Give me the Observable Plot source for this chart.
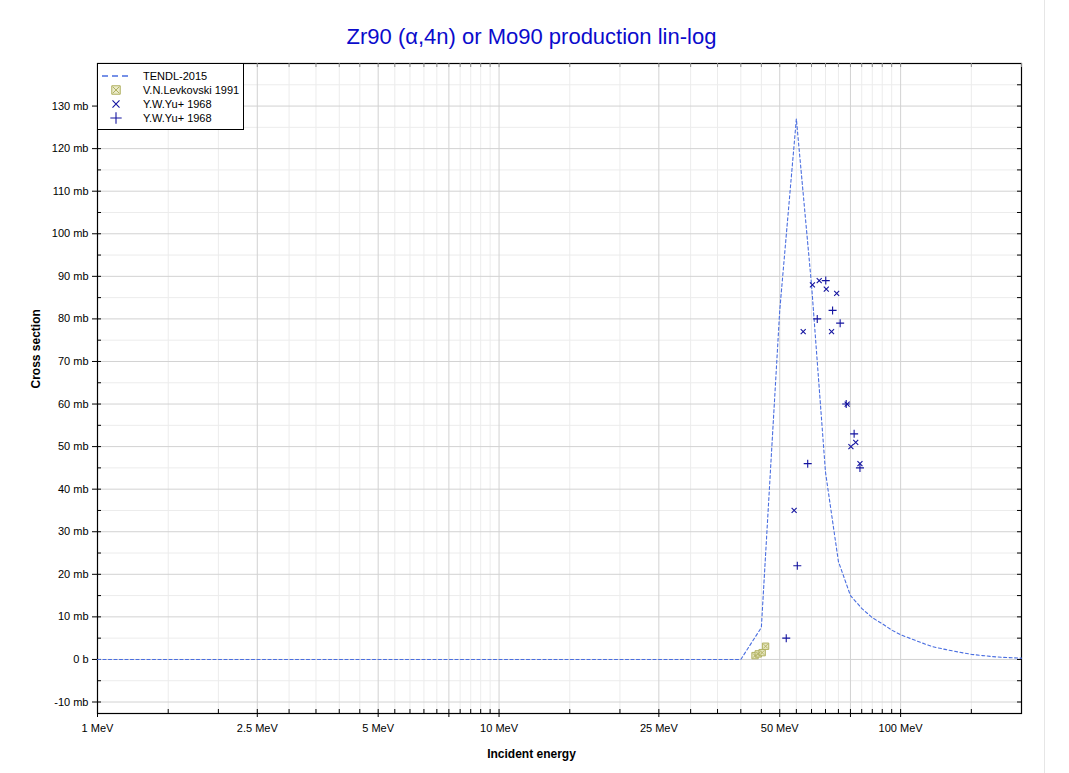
<!DOCTYPE html>
<html>
<head>
<meta charset="utf-8">
<script src="https://cdn.jsdelivr.net/npm/d3@7"></script>
<script src="https://cdn.jsdelivr.net/npm/@observablehq/plot@0.6"></script>
<style>
  html, body { margin: 0; padding: 0; background: white; }
  #chart { width: 1069px; height: 773px; }
</style>
</head>
<body>
<div id="chart"></div>
<script>
// ---- Data ----
const titleText = "Zr90 (α,4n) or Mo90 production lin-log";
const xTitle = "Incident energy";
const yTitle = "Cross section";

// TENDL-2015 evaluated curve (MeV, mb)
const tendlE  = [1, 40, 45, 50, 55, 60, 65, 70, 75, 80, 85, 90, 95, 100, 110, 120, 130, 140, 150, 160, 170, 180, 190, 200];
const tendlXS = [0, 0, 7.5, 82, 127, 88, 44, 23, 15, 12.0, 9.8, 8.4, 6.9, 5.8, 4.3, 3.0, 2.3, 1.7, 1.2, 0.9, 0.65, 0.5, 0.4, 0.3];

// V.N.Levkovski 1991
const levE  = [43.4, 44.2, 45.2, 46.1];
const levXS = [0.9, 1.3, 1.6, 3.1];

// Y.W.Yu+ 1968 (x markers)
const yuXE  = [54.3, 57.2, 60.3, 62.7, 65.3, 67.3, 69.3, 73.6, 75.2, 77.3, 79.2];
const yuXXS = [35, 77, 88, 89, 87, 77, 86, 60, 50, 51, 46];

// Y.W.Yu+ 1968 (+ markers)
const yuPE  = [51.9, 55.3, 58.7, 62.0, 65.1, 67.7, 70.7, 73.2, 76.6, 79.2];
const yuPXS = [5, 22, 46, 80, 89, 82, 79, 60, 53, 45];

// Axis ticks & labels
const xLabelVals = [1, 2.5, 5, 10, 25, 50, 100];
const xLabelText = ["1 MeV", "2.5 MeV", "5 MeV", "10 MeV", "25 MeV", "50 MeV", "100 MeV"];
const xMajorTicks = [1, 2.5, 5, 7.5, 10, 25, 50, 75, 100];
const xMantissas = [1, 1.5, 2, 2.5, 3, 3.5, 4, 4.5, 5, 5.5, 6, 6.5, 7, 7.5, 8, 8.5, 9, 9.5];
const xDecades = [1, 10, 100];

const yLabelVals = [-10, 0, 10, 20, 30, 40, 50, 60, 70, 80, 90, 100, 110, 120, 130];
const yLabelText = ["-10 mb", "0 b", "10 mb", "20 mb", "30 mb", "40 mb", "50 mb", "60 mb", "70 mb", "80 mb", "90 mb", "100 mb", "110 mb", "120 mb", "130 mb"];
const yMinorTicks = [-5, 5, 15, 25, 35, 45, 55, 65, 75, 85, 95, 105, 115, 125, 135];

const legendNames = ["TENDL-2015", "V.N.Levkovski 1991", "Y.W.Yu+ 1968", "Y.W.Yu+ 1968"];

// ---- Build tables ----
const tendl = tendlE.map((e, i) => ({e, xs: tendlXS[i]}));
const lev = levE.map((e, i) => ({e, xs: levXS[i]}));
const yuX = yuXE.map((e, i) => ({e, xs: yuXXS[i]}));
const yuP = yuPE.map((e, i) => ({e, xs: yuPXS[i]}));

const xAllTicks = [];
for (const d of xDecades) for (const m of xMantissas) { const v = +(m * d).toPrecision(6); if (v <= 200) xAllTicks.push(v); }
xAllTicks.push(200);
const xMinorTicks = xAllTicks.filter(v => !xMajorTicks.includes(v));

const W = 1069, H = 773;
const mL = 97, mR = 48, mT = 63, mB = 60;
const fw = W - mL - mR, fh = H - mT - mB;

const lineColor = "#4a6ee0";
const markColor = "#1414a0";
const levFill = "#e2e2b4";
const levStroke = "#b0b060";

const svg = Plot.plot({
  width: W,
  height: H,
  marginLeft: mL,
  marginRight: mR,
  marginTop: mT,
  marginBottom: mB,
  style: {fontFamily: "'Liberation Sans', Arial, sans-serif", fontSize: "11px", background: "white", color: "black"},
  x: {type: "log", domain: [1, 200], axis: null},
  y: {domain: [-12.7, 140], axis: null},
  marks: [
    // grid
    Plot.ruleX(xMinorTicks, {stroke: "#ececec", strokeWidth: 1}),
    Plot.ruleY(yMinorTicks, {stroke: "#ececec", strokeWidth: 1}),
    Plot.ruleX(xMajorTicks, {stroke: "#d2d2d2", strokeWidth: 1}),
    Plot.ruleY(yLabelVals, {stroke: "#d2d2d2", strokeWidth: 1}),
    // frame
    Plot.frame({stroke: "black", strokeWidth: 1.2}),
    // bottom ticks
    Plot.ruleX(xMinorTicks, {stroke: "black", insetTop: fh - 4}),
    Plot.ruleX(xMajorTicks, {stroke: "black", insetTop: fh - 4, insetBottom: -4}),
    // top ticks
    Plot.ruleX(xAllTicks, {stroke: "#888", insetBottom: fh - 4}),
    // left ticks
    Plot.ruleY(yMinorTicks, {stroke: "black", insetRight: fw - 4}),
    Plot.ruleY(yLabelVals, {stroke: "black", insetRight: fw - 4, insetLeft: -5}),
    // right ticks
    Plot.ruleY(yMinorTicks.concat(yLabelVals), {stroke: "black", insetLeft: fw - 4}),
    // axes labels
    Plot.axisX(xLabelVals, {tickSize: 0, tickPadding: 11, tickFormat: d => xLabelText[xLabelVals.indexOf(d)], fontSize: 11, label: null}),
    Plot.axisY(yLabelVals, {tickSize: 0, tickPadding: 9, tickFormat: d => yLabelText[yLabelVals.indexOf(d)], fontSize: 11, label: null}),
    // data
    Plot.line(tendl, {x: "e", y: "xs", stroke: lineColor, strokeWidth: 1.1, strokeDasharray: "3,2.5"}),
    Plot.dot(lev, {x: "e", y: "xs", symbol: "square", r: 3.6, fill: levFill, fillOpacity: 0.85, stroke: levStroke, strokeWidth: 1}),
    Plot.dot(lev, {x: "e", y: "xs", symbol: "times", r: 2.1, stroke: levStroke, strokeWidth: 0.9}),
    Plot.dot(yuX, {x: "e", y: "xs", symbol: "times", r: 2.4, stroke: markColor, strokeWidth: 1.1}),
    Plot.dot(yuP, {x: "e", y: "xs", symbol: "plus", r: 2.7, stroke: markColor, strokeWidth: 1.1}),
    // titles
    Plot.text([titleText], {frameAnchor: "top", dx: -28, dy: -20, lineAnchor: "bottom", fontSize: 22, fill: "#0b0bcc"}),
    Plot.text([xTitle], {frameAnchor: "bottom", dx: -28, dy: 44, fontSize: 12, fontWeight: "bold"}),
    Plot.text([yTitle], {frameAnchor: "left", dx: -61, rotate: -90, fontSize: 12, fontWeight: "bold"})
  ]
});

// ---- Legend (drawn in the same svg) ----
const s = d3.select(svg);
const lg = s.append("g")
  .attr("font-family", "'Liberation Sans', Arial, sans-serif")
  .attr("font-size", 11)
  .attr("text-anchor", "start");
lg.append("rect").attr("x", mL + 0.5).attr("y", mT + 0.5).attr("width", 146).attr("height", 66)
  .attr("fill", "white").attr("stroke", "black").attr("stroke-width", 1);
const rows = [76, 90, 104, 118];
const sx = 116;
lg.append("line").attr("x1", 102).attr("x2", 129).attr("y1", rows[0]).attr("y2", rows[0])
  .attr("stroke", lineColor).attr("stroke-width", 1.4).attr("stroke-dasharray", "6,4");
const sq = d3.symbol(d3.symbolSquare, 72)();
lg.append("path").attr("d", sq).attr("transform", `translate(${sx},${rows[1]})`)
  .attr("fill", levFill).attr("fill-opacity", 0.7).attr("stroke", levStroke);
lg.append("path").attr("d", d3.symbol(d3.symbolTimes, 30)()).attr("transform", `translate(${sx},${rows[1]})`)
  .attr("fill", "none").attr("stroke", levStroke);
lg.append("path").attr("d", d3.symbol(d3.symbolTimes, 34)()).attr("transform", `translate(${sx},${rows[2]})`)
  .attr("fill", "none").attr("stroke", markColor).attr("stroke-width", 1.1);
lg.append("path").attr("d", d3.symbol(d3.symbolPlus, 44)()).attr("transform", `translate(${sx},${rows[3]})`)
  .attr("fill", "none").attr("stroke", markColor).attr("stroke-width", 1.1);
legendNames.forEach((n, i) => {
  lg.append("text").attr("x", 143).attr("y", rows[i]).attr("dy", "0.35em")
    .attr("text-anchor", "start").attr("fill", "black").text(n);
});
// light outer border on the right
s.append("line").attr("x1", 1044.5).attr("x2", 1044.5).attr("y1", 0).attr("y2", H).attr("stroke", "#e6e6e6");

document.getElementById("chart").appendChild(svg);
</script>
</body>
</html>
